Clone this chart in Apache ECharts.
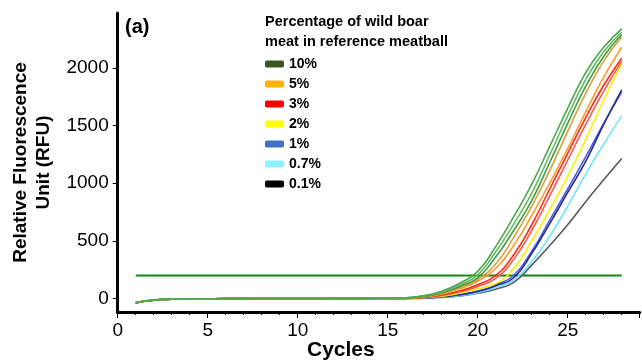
<!DOCTYPE html>
<html><head><meta charset="utf-8">
<script src="https://cdn.jsdelivr.net/npm/echarts@6/dist/echarts.min.js"></script>
<style>html,body{margin:0;padding:0;background:#fff}#c{width:642px;height:362px}</style>
</head><body><div id="c"></div>
<script>
const cycles = [1,2,3,4,5,6,7,8,9,10,11,12,13,14,15,16,17,18,19,20,21,22,23,24,25,26,27,28];
const yTicks = [0,500,1000,1500,2000];
const threshold = 200;
const groups = ['10%','5%','3%','2%','1%','0.7%','0.1%'];
const legendColors = ['#375623','#ffb000','#ff0000','#ffff00','#4472c4','#8ff0ff','#000000'];
const green1 = [-36,-14,-6,-3,-2,-1,-1,0,0,0,0,1,1,2,4,7,24,62,132,235,450,710,990,1320,1650,1960,2180,2340];
const green2 = [-35,-13,-6,-3,-2,-1,-1,0,0,0,0,0,1,2,3,6,21,55,118,205,405,645,915,1245,1585,1900,2140,2310];
const green3 = [-34,-13,-5,-3,-2,-1,-1,0,0,0,0,0,1,1,3,5,18,48,105,180,360,590,850,1180,1520,1840,2100,2290];
const orange1 = [-35,-13,-6,-3,-2,-1,-1,0,0,0,0,0,1,1,2,5,16,44,95,165,300,530,800,1110,1450,1780,2060,2270];
const orange2 = [-35,-13,-6,-3,-2,-1,-1,0,0,0,0,0,0,1,2,4,14,40,85,150,260,460,720,1000,1300,1620,1920,2180];
const red1 = [-36,-14,-6,-3,-2,-1,-1,0,0,0,0,0,0,1,1,3,10,30,65,120,200,380,640,950,1260,1570,1850,2085];
const red2 = [-35,-14,-6,-3,-2,-1,-1,0,0,0,0,0,0,1,1,3,9,27,58,105,175,340,590,890,1200,1510,1800,2060];
const yellow1 = [-35,-14,-6,-3,-2,-1,-1,0,0,0,0,0,0,0,1,2,7,20,45,85,130,260,500,770,1060,1380,1720,2040];
const blue1 = [-38,-15,-7,-3,-2,-1,-1,0,0,0,0,0,0,0,1,1,5,15,32,60,110,180,390,650,920,1190,1510,1810];
const blue2 = [-37,-15,-6,-3,-2,-1,-1,0,0,0,0,0,0,0,1,1,5,16,34,64,118,200,410,680,950,1230,1520,1790];
const cyan1 = [-36,-14,-6,-3,-2,-1,-1,0,0,0,0,0,0,0,1,1,4,12,25,50,95,160,320,540,800,1080,1340,1585];
const black1 = [-37,-15,-6,-3,-2,-1,-1,0,0,0,0,0,0,0,0,1,3,10,22,45,80,140,290,460,640,840,1030,1215];

const curves = [
  {name:'0.1%', data:black1, color:'#5a5a5a'},
  {name:'0.7%', data:cyan1, color:'#6fe6ff'},
  {name:'1%', data:blue2, color:'#4f5fe0'},
  {name:'1%', data:blue1, color:'#2b2b8c'},
  {name:'2%', data:yellow1, color:'#fff000'},
  {name:'3%', data:red2, color:'#ff5a50'},
  {name:'3%', data:red1, color:'#ff2a10'},
  {name:'5%', data:orange2, color:'#ff9a30'},
  {name:'5%', data:orange1, color:'#d8a040'},
  {name:'10%', data:green3, color:'#3f9e3f'},
  {name:'10%', data:green2, color:'#66ba66'},
  {name:'10%', data:green1, color:'#4aa84a'}
];

const FONT = 'Liberation Sans, Arial, sans-serif';
const series = curves.map(c => ({
  name: c.name, type: 'line', smooth: true, showSymbol: false, silent: true,
  data: cycles.map((x, i) => [x, c.data[i]]),
  lineStyle: {color: c.color, width: 1.6}, itemStyle: {color: c.color}
}));
series.push({
  type: 'line', showSymbol: false, silent: true, z: 1,
  data: [[cycles[0], threshold], [cycles[cycles.length-1], threshold]],
  lineStyle: {color: '#138a13', width: 2}
});

const chart = echarts.init(document.getElementById('c'), null, {renderer: 'canvas'});
chart.setOption({
  animation: false,
  backgroundColor: '#fff',
  grid: {left: 117.7, right: 2.3, top: 13, bottom: 50, containLabel: false},
  title: {
    text: 'Percentage of wild boar\nmeat in reference meatball',
    left: 260, top: 7,
    textStyle: {fontFamily: FONT, fontSize: 14.5, fontWeight: 'bold', color: '#000', lineHeight: 20}
  },
  legend: {
    orient: 'vertical', left: 260, top: 52, itemWidth: 19, itemHeight: 7, itemGap: 6,
    icon: 'roundRect',
    data: groups.map((g, i) => ({name: g, itemStyle: {color: legendColors[i]}})),
    textStyle: {fontFamily: FONT, fontSize: 14, fontWeight: 'bold', color: '#000', padding: [0,0,0,0]},
    selectedMode: false
  },
  xAxis: {
    type: 'value', min: 0, max: 29, interval: 5,
    axisLine: {show: true, onZero: false, lineStyle: {color: '#000', width: 3}},
    axisTick: {show: true, length: 6, lineStyle: {color: '#000', width: 1}},
    minorTick: {show: true, splitNumber: 5, length: 3, lineStyle: {color: '#000', width: 1}},
    splitLine: {show: false},
    axisLabel: {fontFamily: FONT, fontSize: 19, color: '#000', margin: 9, showMaxLabel: false,
      formatter: v => (v % 5 === 0 ? String(v) : '')}
  },
  yAxis: {
    type: 'value', min: -117, max: 2477,
    name: 'Relative Fluorescence\nUnit (RFU)', nameLocation: 'middle', nameGap: 62,
    nameTextStyle: {fontFamily: FONT, fontSize: 19, fontWeight: 'bold', color: '#000', lineHeight: 23},
    axisLine: {show: true, onZero: false, lineStyle: {color: '#000', width: 3}},
    axisTick: {show: true, length: 5, customValues: yTicks, lineStyle: {color: '#000', width: 1}},
    splitLine: {show: false},
    axisLabel: {fontFamily: FONT, fontSize: 19, color: '#000', margin: 9, customValues: yTicks,
      formatter: v => String(v)}
  },
  graphic: [
    {type: 'text', left: 125, top: 17, style: {text: '(a)', font: 'bold 20px ' + FONT, fill: '#000'}},
    {type: 'text', left: 307, top: 340, style: {text: 'Cycles', font: 'bold 21px ' + FONT, fill: '#000'}}
  ],
  series: series
});
</script></body></html>
